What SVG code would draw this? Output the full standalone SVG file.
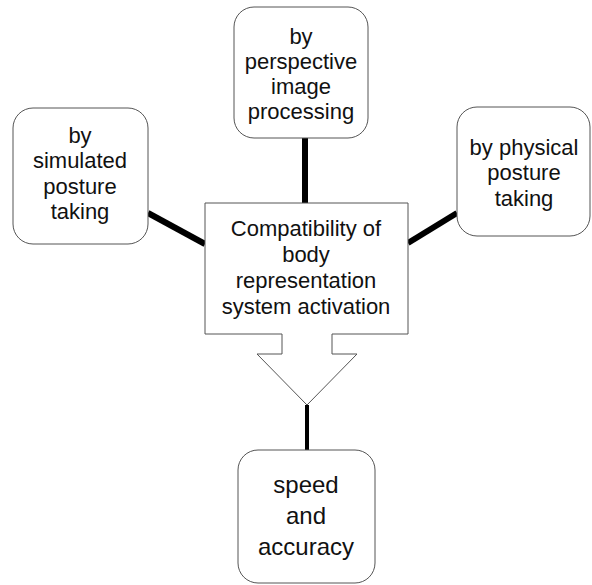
<svg xmlns="http://www.w3.org/2000/svg" width="592" height="585" viewBox="0 0 592 585">
<style>
.box{fill:#fff;stroke:#555;stroke-width:1}
.t{font-family:"Liberation Sans",Arial,sans-serif;font-size:22px;fill:#111;text-anchor:middle}
.big{font-size:24px}
.con{stroke:#000;fill:none}
</style>
<rect width="592" height="585" fill="#fff"/>
<g id="connectors">
<line class="con" x1="148" y1="213" x2="205" y2="244" stroke-width="6"/>
<line class="con" x1="408" y1="243" x2="457" y2="213" stroke-width="6"/>
<line class="con" x1="305" y1="138" x2="305" y2="203" stroke-width="6"/>
<line class="con" x1="307" y1="405" x2="307" y2="450" stroke-width="4"/>
</g>
<g id="center">
<path class="box" d="M205,203 H408 V334 H332 V354 H357 L307,405 L257,354 H282 V334 H205 Z"/>
<text class="t" x="306" y="236">Compatibility of</text>
<text class="t" x="306" y="262">body</text>
<text class="t" x="306" y="288">representation</text>
<text class="t" x="306" y="314">system activation</text>
</g>
<g id="simulated">
<rect class="box" x="13" y="108" width="135" height="136" rx="20"/>
<text class="t" x="80" y="143">by</text>
<text class="t" x="80" y="168">simulated</text>
<text class="t" x="80" y="194">posture</text>
<text class="t" x="80" y="219">taking</text>
</g>
<g id="perspective">
<rect class="box" x="234" y="7" width="134" height="131" rx="20"/>
<text class="t" x="301" y="44">by</text>
<text class="t" x="301" y="69">perspective</text>
<text class="t" x="301" y="94">image</text>
<text class="t" x="301" y="119">processing</text>
</g>
<g id="physical">
<rect class="box" x="457" y="107" width="133" height="129" rx="20"/>
<text class="t" x="524" y="155">by physical</text>
<text class="t" x="524" y="180">posture</text>
<text class="t" x="524" y="206">taking</text>
</g>
<g id="speed">
<rect class="box" x="238" y="450" width="137" height="133" rx="20"/>
<text class="t big" x="306" y="493">speed</text>
<text class="t big" x="306" y="524">and</text>
<text class="t big" x="306" y="555">accuracy</text>
</g>
</svg>
